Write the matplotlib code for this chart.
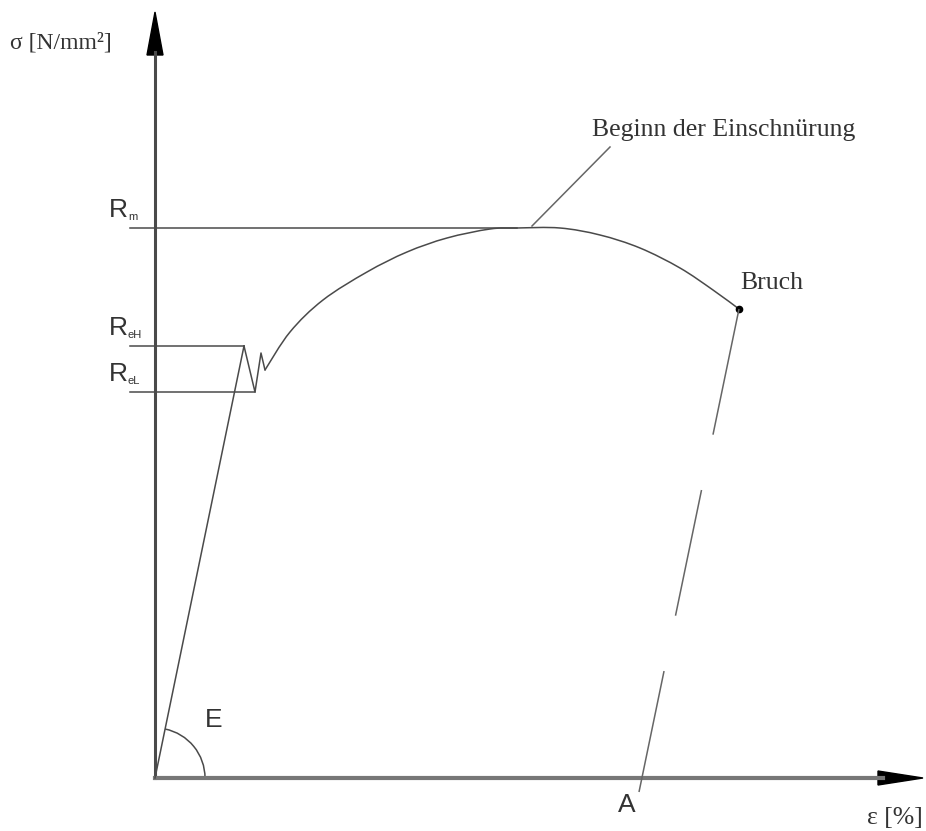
import numpy as np
import matplotlib
matplotlib.use("Agg")
import matplotlib.pyplot as plt
from matplotlib.path import Path
from matplotlib.patches import PathPatch, Arc

# Spannungs-Dehnungs-Diagramm (schematic units, origin = axis crossing)
elastic_eps = [0, 89]
elastic_sig = [0, 432]

# yield zigzag after R_eH
yield_eps = [89, 100, 106, 110]
yield_sig = [432, 386, 425, 408]

# hardening curve up to Rm and on to fracture
curve_eps = [110, 135, 168, 212, 252, 292, 335, 362, 405, 445, 485, 525, 558, 584]
curve_sig = [408, 446, 478, 506, 526, 540, 549, 550, 550, 543, 530, 510, 488, 469]

R_eH = 432
R_eL = 386
R_m = 550
A_eps = 484        # end of unloading line below the axis
A_sig = -14

eps_max = 768
sig_max = 766

LINE = '#4a4a4a'
TXT = '#333333'


def smooth_path(xs, ys):
    # Catmull-Rom through the read points, drawn as cubic Beziers
    pts = np.column_stack([xs, ys]).astype(float)
    p = np.vstack([pts[0], pts, pts[-1]])
    verts = [pts[0]]
    codes = [Path.MOVETO]
    for i in range(1, len(p) - 2):
        c1 = p[i] + (p[i + 1] - p[i - 1]) / 6.0
        c2 = p[i + 1] - (p[i + 2] - p[i]) / 6.0
        verts += [c1, c2, p[i + 1]]
        codes += [Path.CURVE4] * 3
    return Path(verts, codes)


fig = plt.figure(figsize=(9.26, 8.31), dpi=100)
ax = fig.add_axes([0, 0, 1, 1])
ax.set_xlim(-155, 771)
ax.set_ylim(-53, 778)
ax.axis('off')

# axes with arrow heads
ax.plot([0, 0], [0, sig_max - 40], color=LINE, lw=2.2)
ax.plot([0, eps_max - 40], [0, 0], color='#777777', lw=3)
ax.fill([-8, 8, 0], [sig_max - 43, sig_max - 43, sig_max], color='black')
ax.fill([eps_max - 45, eps_max - 45, eps_max], [-7, 7, 0], color='black')

# elastic line and yield zigzag
ax.plot(elastic_eps, elastic_sig, color=LINE, lw=1.1)
ax.plot(yield_eps, yield_sig, color=LINE, lw=1.1)
ax.add_patch(PathPatch(smooth_path(curve_eps, curve_sig), fill=False,
                       edgecolor=LINE, lw=1.1))

# reference levels
ax.plot([-25, elastic_eps[1]], [R_eH, R_eH], color=LINE, lw=1.1)
ax.plot([-25, yield_eps[1]], [R_eL, R_eL], color=LINE, lw=1.1)
ax.plot([-25, curve_eps[7]], [R_m, R_m], color=LINE, lw=1.1)

# fracture point and unloading line (parallel to elastic line)
ax.plot([curve_eps[-1]], [curve_sig[-1]], 'o', color='black', ms=4.5)
ax.plot([curve_eps[-1], A_eps], [curve_sig[-1], A_sig], color='#666666',
        lw=1.1, dashes=(84, 37))

# modulus arc
ang = np.degrees(np.arctan2(elastic_sig[1], elastic_eps[1]))
ax.add_patch(Arc((0, 0), 100, 100, theta1=0, theta2=ang, color=LINE, lw=1.1))

# leader to necking label
ax.plot([377, 455], [552, 631], color='#666666', lw=1.1)

serif = 'Liberation Serif'
sans = 'Liberation Sans'
ax.text(-145, 735, 'σ [N/mm²]', family=serif, fontsize=17, color=TXT,
        va='center', ha='left')
ax.text(437, 648, 'Beginn der Einschnürung', family=serif, fontsize=18.5,
        color=TXT, va='center', ha='left')
ax.text(585, 495, 'Bruch', family=serif, fontsize=18.5, color=TXT,
        va='center', ha='left')
ax.text(768, -40, 'ε [%]', family=serif, fontsize=18.5, color=TXT,
        va='center', ha='right')

for lab, sub, s in [('R', 'm', R_m), ('R', 'eH', R_eH), ('R', 'eL', R_eL)]:
    ax.text(-46, s + 6, lab, family=sans, fontsize=19, color=TXT,
            ha='left', va='bottom')
    ax.text(-27, s + 6, sub, family=sans, fontsize=8, color=TXT,
            ha='left', va='bottom')

ax.text(50, 58, 'E', family=sans, fontsize=19, color=TXT, ha='left', va='center')
ax.text(472, -27, 'A', family=sans, fontsize=19, color=TXT, ha='center', va='center')

fig.savefig('out.png', dpi=100, facecolor='white')
